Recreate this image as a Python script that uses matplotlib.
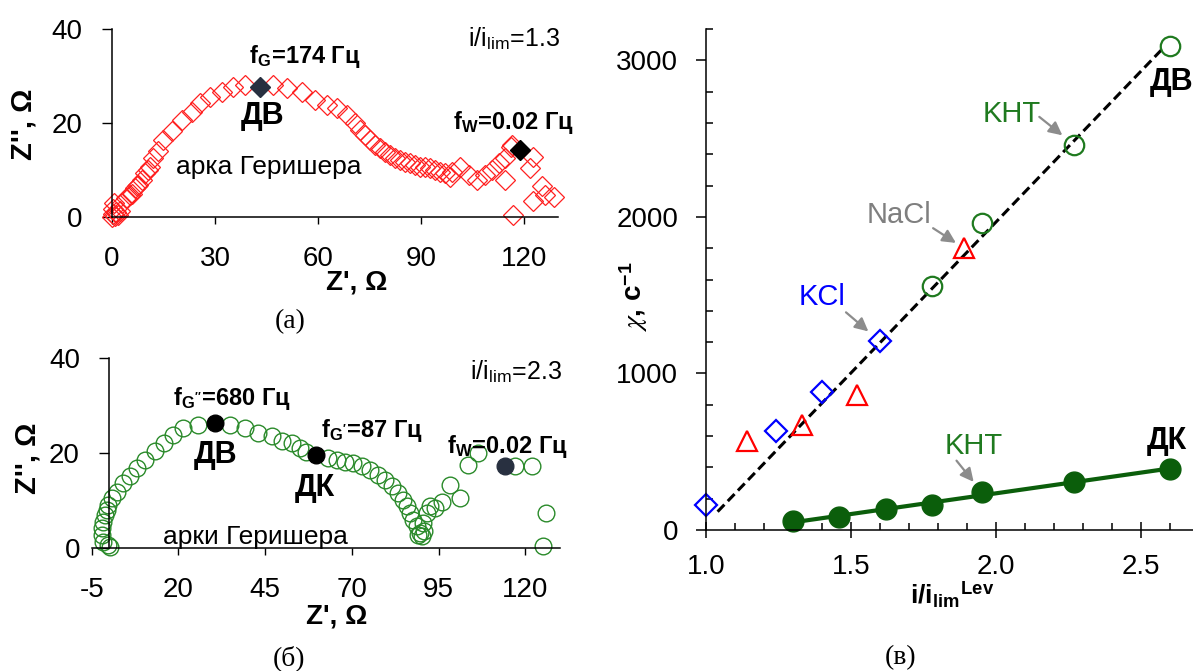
import numpy as np
import matplotlib
matplotlib.use('Agg')
import matplotlib.pyplot as plt
from matplotlib.ticker import MultipleLocator, FormatStrFormatter

plt.rcParams['font.family'] = ['Liberation Sans', 'DejaVu Sans']
plt.rcParams['mathtext.fontset'] = 'stix'
plt.rcParams['axes.linewidth'] = 1.1
plt.rcParams['axes.unicode_minus'] = False

# (а) impedance spectrum, i/ilim = 1.3
a_re = [0.0, 0.3, 0.8, 1.3, 0.2, 1.8, 2.4, 0.6, 3.0, 4.2,
        5.2, 5.7, 6.7, 7.2, 7.7, 8.6, 9.6, 10.4, 11.1, 12.0,
        13.5, 15.0, 17.4, 20.3, 23.2, 25.7, 28.6, 32.0, 35.4, 38.8,
        47.0, 50.9, 55.3, 59.2, 62.6, 65.5, 68.4, 70.9, 72.3, 73.8,
        75.2, 76.7, 78.1, 79.6, 81.0, 82.5, 83.9, 85.4, 86.9, 88.3,
        89.8, 91.2, 92.7, 94.2, 95.6, 97.1, 98.5, 99.0, 101.5, 104.0,
        106.3, 108.8, 110.7, 112.7, 114.6, 116.5, 122.8, 121.9, 125.3, 122.8,
        126.3, 128.7, 117.0, 114.6, 116.3]
a_im = [0.0, 0.6, 0.2, 1.0, 1.6, 0.5, 1.3, 3.0, 2.9, 4.0,
        4.6, 5.0, 6.1, 6.5, 6.8, 7.9, 9.3, 10.0, 10.7, 12.5,
        14.0, 16.4, 18.2, 20.6, 22.4, 24.2, 25.6, 26.7, 27.7, 28.1,
        28.1, 27.4, 26.7, 24.9, 23.8, 23.2, 21.7, 19.9, 18.5, 17.4,
        16.4, 15.3, 14.6, 13.9, 13.2, 12.5, 12.1, 11.8, 11.4, 11.1,
        10.7, 10.7, 10.4, 10.0, 9.6, 9.3, 8.6, 9.6, 10.7, 9.0,
        7.9, 9.0, 9.9, 11.4, 12.5, 15.3, 12.8, 10.4, 6.5, 3.3,
        4.7, 4.3, 0.4, 7.9, 15.0]
a_fg = (43.1, 27.7)    # f_G = 174 Hz
a_fw = (118.9, 14.3)   # f_W = 0.02 Hz

# (б) impedance spectrum, i/ilim = 2.3
b_re = [-0.2, 0.3, -1.6, -2.1, -2.1, -1.6, -1.2, -0.7, -0.2, 0.8,
        2.2, 4.1, 6.1, 8.0, 10.4, 13.3, 15.7, 18.5, 21.4, 25.7,
        34.9, 39.2, 43.0, 46.9, 49.8, 52.6, 55.0, 56.9, 63.2, 65.6,
        68.0, 70.4, 72.8, 75.2, 77.6, 79.5, 81.5, 83.4, 84.8, 85.8,
        86.8, 87.7, 88.7, 89.6, 90.2, 89.2, 90.8, 90.6, 91.6, 92.5,
        94.0, 95.9, 98.3, 101.2, 103.6, 106.4, 117.0, 121.8, 126.1, 125.2]
b_im = [0.7, 0.2, 1.4, 2.8, 4.2, 5.6, 7.0, 8.1, 9.1, 10.5,
        11.9, 13.7, 15.1, 16.8, 18.6, 20.4, 22.1, 23.8, 25.3, 25.9,
        25.9, 25.3, 24.2, 23.5, 22.5, 22.1, 21.0, 20.3, 18.9, 18.6,
        18.2, 17.9, 17.2, 16.5, 15.4, 14.4, 13.0, 11.6, 10.2, 8.8,
        7.4, 6.0, 4.6, 3.2, 2.6, 2.9, 3.6, 5.3, 7.4, 8.8,
        8.4, 9.8, 13.3, 10.5, 17.5, 20.0, 17.2, 17.2, 7.4, 0.4]
b_fg2 = (30.5, 26.3)   # f_G'' = 680 Hz
b_fg1 = (59.8, 19.6)   # f_G' = 87 Hz
b_fw = (114.1, 17.2)   # f_W = 0.02 Hz

# (в) chi vs i/ilim^Lev
kcl_x = [1.00, 1.24, 1.40, 1.60]
kcl_y = [160, 630, 880, 1205]
nacl_x = [1.14, 1.33, 1.52, 1.89]
nacl_y = [570, 670, 865, 1800]
kht_dv_x = [1.78, 1.95, 2.27, 2.60]
kht_dv_y = [1560, 1960, 2460, 3090]
kht_dk_x = [1.30, 1.46, 1.62, 1.78, 1.95, 2.27, 2.60]
kht_dk_y = [57, 81, 132, 160, 245, 308, 387]
dv_line_x = [1.04, 2.58]
dv_line_y = [117, 3085]

W, H = 1193, 671
fig = plt.figure(figsize=(W / 100, H / 100), dpi=100)


def at(x, y):
    return x / W, 1 - y / H


def rect(x0, y0, x1, y1):
    return [x0 / W, 1 - y1 / H, (x1 - x0) / W, (y1 - y0) / H]


def nyquist_axes(r, xlim, xticks):
    ax = fig.add_axes(r)
    ax.patch.set_alpha(0)
    for s in ('top', 'right'):
        ax.spines[s].set_visible(False)
    ax.set_xlim(*xlim)
    ax.set_ylim(0, 40)
    ax.set_xticks(xticks)
    ax.set_yticks([0, 20, 40])
    ax.tick_params(axis='x', direction='out', length=5, width=1, pad=16, labelsize=20)
    ax.tick_params(axis='y', direction='out', length=7, width=1, pad=14, labelsize=20)
    return ax


red = '#ff2020'
green_b = '#2a8a2a'
ms_a = 10.5
ms_b = 12

# ---- (а)
ax_a = nyquist_axes(rect(112, 29, 558, 217), (0, 130), [0, 30, 60, 90, 120])
ax_a.plot(a_re, a_im, 'D', ms=ms_a, mfc='none', mec=red, mew=0.9, clip_on=False)
ax_a.plot(*a_fg, 'D', ms=ms_a, color='#283040', clip_on=False)
ax_a.plot(*a_fw, 'D', ms=ms_a, color='black', clip_on=False)

fig.text(*at(514, 39), r'i/i$_\mathregular{lim}$=1.3', fontsize=18, ha='center', va='center')
fig.text(*at(305, 56), r'f$_\mathregular{G}$=174 Гц', fontsize=17, weight='bold', ha='center', va='center')
fig.text(*at(263, 116), 'ДВ', fontsize=22, weight='bold', ha='center', va='center')
fig.text(*at(513, 122), r'f$_\mathregular{W}$=0.02 Гц', fontsize=17, weight='bold', ha='center', va='center')
fig.text(*at(269, 167), 'арка Геришера', fontsize=19, ha='center', va='center')
fig.text(*at(23, 124), "Z'', Ω", fontsize=21, weight='bold', rotation=90, ha='center', va='center')
fig.text(*at(357, 283), "Z', Ω", fontsize=20, weight='bold', ha='center', va='center')
fig.text(*at(290, 322), '(а)', fontsize=20, family='Liberation Serif', ha='center', va='center')

# ---- (б)
ax_b = nyquist_axes(rect(91.7, 358, 560, 548.3), (-5, 130), [-5, 20, 45, 70, 95, 120])
ax_b.spines['left'].set_position(('data', 0))
ax_b.plot(b_re, b_im, 'o', ms=ms_b, mfc='none', mec=green_b, mew=1.0, clip_on=False)
ax_b.plot(*b_fg2, 'o', ms=ms_b, color='black', clip_on=False)
ax_b.plot(*b_fg1, 'o', ms=ms_b, color='black', clip_on=False)
ax_b.plot(*b_fw, 'o', ms=ms_b, color='#283040', clip_on=False)

fig.text(*at(516, 372), r'i/i$_\mathregular{lim}$=2.3', fontsize=18, ha='center', va='center')
fig.text(*at(232, 398), r"f$_\mathregular{G''}$=680 Гц", fontsize=17, weight='bold', ha='center', va='center')
fig.text(*at(216, 455), 'ДВ', fontsize=22, weight='bold', ha='center', va='center')
fig.text(*at(372, 431), r"f$_\mathregular{G'}$=87 Гц", fontsize=17, weight='bold', ha='center', va='center')
fig.text(*at(315, 488), 'ДК', fontsize=22, weight='bold', ha='center', va='center')
fig.text(*at(507, 447), r'f$_\mathregular{W}$=0.02 Гц', fontsize=17, weight='bold', ha='center', va='center')
fig.text(*at(255, 537), 'арки Геришера', fontsize=19, ha='center', va='center')
fig.text(*at(27, 458), "Z'', Ω", fontsize=21, weight='bold', rotation=90, ha='center', va='center')
fig.text(*at(337, 617), "Z', Ω", fontsize=20, weight='bold', ha='center', va='center')
fig.text(*at(289, 658), '(б)', fontsize=20, family='Liberation Serif', ha='center', va='center')

# ---- (в)
dk_green = '#0b5e0b'
dv_green = '#1f7a1f'
ax_c = fig.add_axes(rect(706, 29, 1199, 530))
ax_c.patch.set_alpha(0)
for s in ('top', 'right'):
    ax_c.spines[s].set_visible(False)
ax_c.set_xlim(1.0, 2.7)
ax_c.set_ylim(0, 3200)
ax_c.set_xticks([1.0, 1.5, 2.0, 2.5])
ax_c.xaxis.set_major_formatter(FormatStrFormatter('%.1f'))
ax_c.xaxis.set_minor_locator(MultipleLocator(0.1))
ax_c.set_yticks([0, 1000, 2000, 3000])
ax_c.yaxis.set_minor_locator(MultipleLocator(200))
ax_c.tick_params(axis='x', which='major', direction='inout', length=11, width=1.1, pad=12, labelsize=20)
ax_c.tick_params(axis='x', which='minor', direction='in', length=5, width=1.1)
ax_c.tick_params(axis='y', which='major', direction='out', length=7, width=1.1, pad=13, labelsize=20)
ax_c.tick_params(axis='y', which='minor', direction='in', length=5, width=1.1)

ax_c.plot(dv_line_x, dv_line_y, color='black', lw=2.2, dashes=(3.2, 1.6))
fit = np.polyfit(kht_dk_x, kht_dk_y, 1)
xf = np.array([kht_dk_x[0], kht_dk_x[-1]])
ax_c.plot(xf, np.polyval(fit, xf), color=dk_green, lw=3)
ax_c.plot(kht_dk_x, kht_dk_y, 'o', ms=15, color=dk_green, clip_on=False)
ax_c.plot(kht_dv_x, kht_dv_y, 'o', ms=14, mfc='none', mec=dv_green, mew=1.6, clip_on=False)
ax_c.plot(nacl_x, nacl_y, '^', ms=14, mfc='none', mec='#ff0000', mew=1.6, clip_on=False)
ax_c.plot(kcl_x, kcl_y, 'D', ms=11, mfc='none', mec='#0000ff', mew=1.6, clip_on=False)

arrow = dict(arrowstyle='-|>', color='#8c8c8c', lw=1.6, mutation_scale=20,
             shrinkA=0)
ax_c.annotate('', xy=(kht_dv_x[2], kht_dv_y[2]), xytext=(-35, 28), textcoords='offset pixels',
              arrowprops=dict(arrow, shrinkB=11))
ax_c.annotate('', xy=(nacl_x[3], nacl_y[3]), xytext=(-31, 20), textcoords='offset pixels',
              arrowprops=dict(arrow, shrinkB=7))
ax_c.annotate('', xy=(kcl_x[3], kcl_y[3]), xytext=(-34, 29), textcoords='offset pixels',
              arrowprops=dict(arrow, shrinkB=11))
ax_c.annotate('', xy=(kht_dk_x[4], kht_dk_y[4]), xytext=(-25, 31), textcoords='offset pixels',
              arrowprops=dict(arrow, shrinkB=9))

fig.text(*at(1012, 114), 'KHT', fontsize=21, color=dv_green, ha='center', va='center')
fig.text(*at(899, 215), 'NaCl', fontsize=21, color='#7f7f7f', ha='center', va='center')
fig.text(*at(822, 297), 'KCl', fontsize=21, color='#0000ff', ha='center', va='center')
fig.text(*at(974, 446), 'KHT', fontsize=21, color=dv_green, ha='center', va='center')
fig.text(*at(1150, 82), 'ДВ', fontsize=22, weight='bold', ha='left', va='center')
fig.text(*at(1147, 441), 'ДК', fontsize=22, weight='bold', ha='left', va='center')
fig.text(*at(952, 595), r'i/i$_\mathregular{lim}$$^\mathregular{Lev}$', fontsize=19, weight='bold',
         ha='center', va='center')
fig.text(*at(634, 297), r'$\chi$, с$^\mathregular{-1}$', fontsize=20, weight='bold', rotation=90,
         ha='center', va='center')
fig.text(*at(901, 658), '(в)', fontsize=20, family='Liberation Serif', ha='center', va='center')

fig.savefig('out.png', dpi=100)
